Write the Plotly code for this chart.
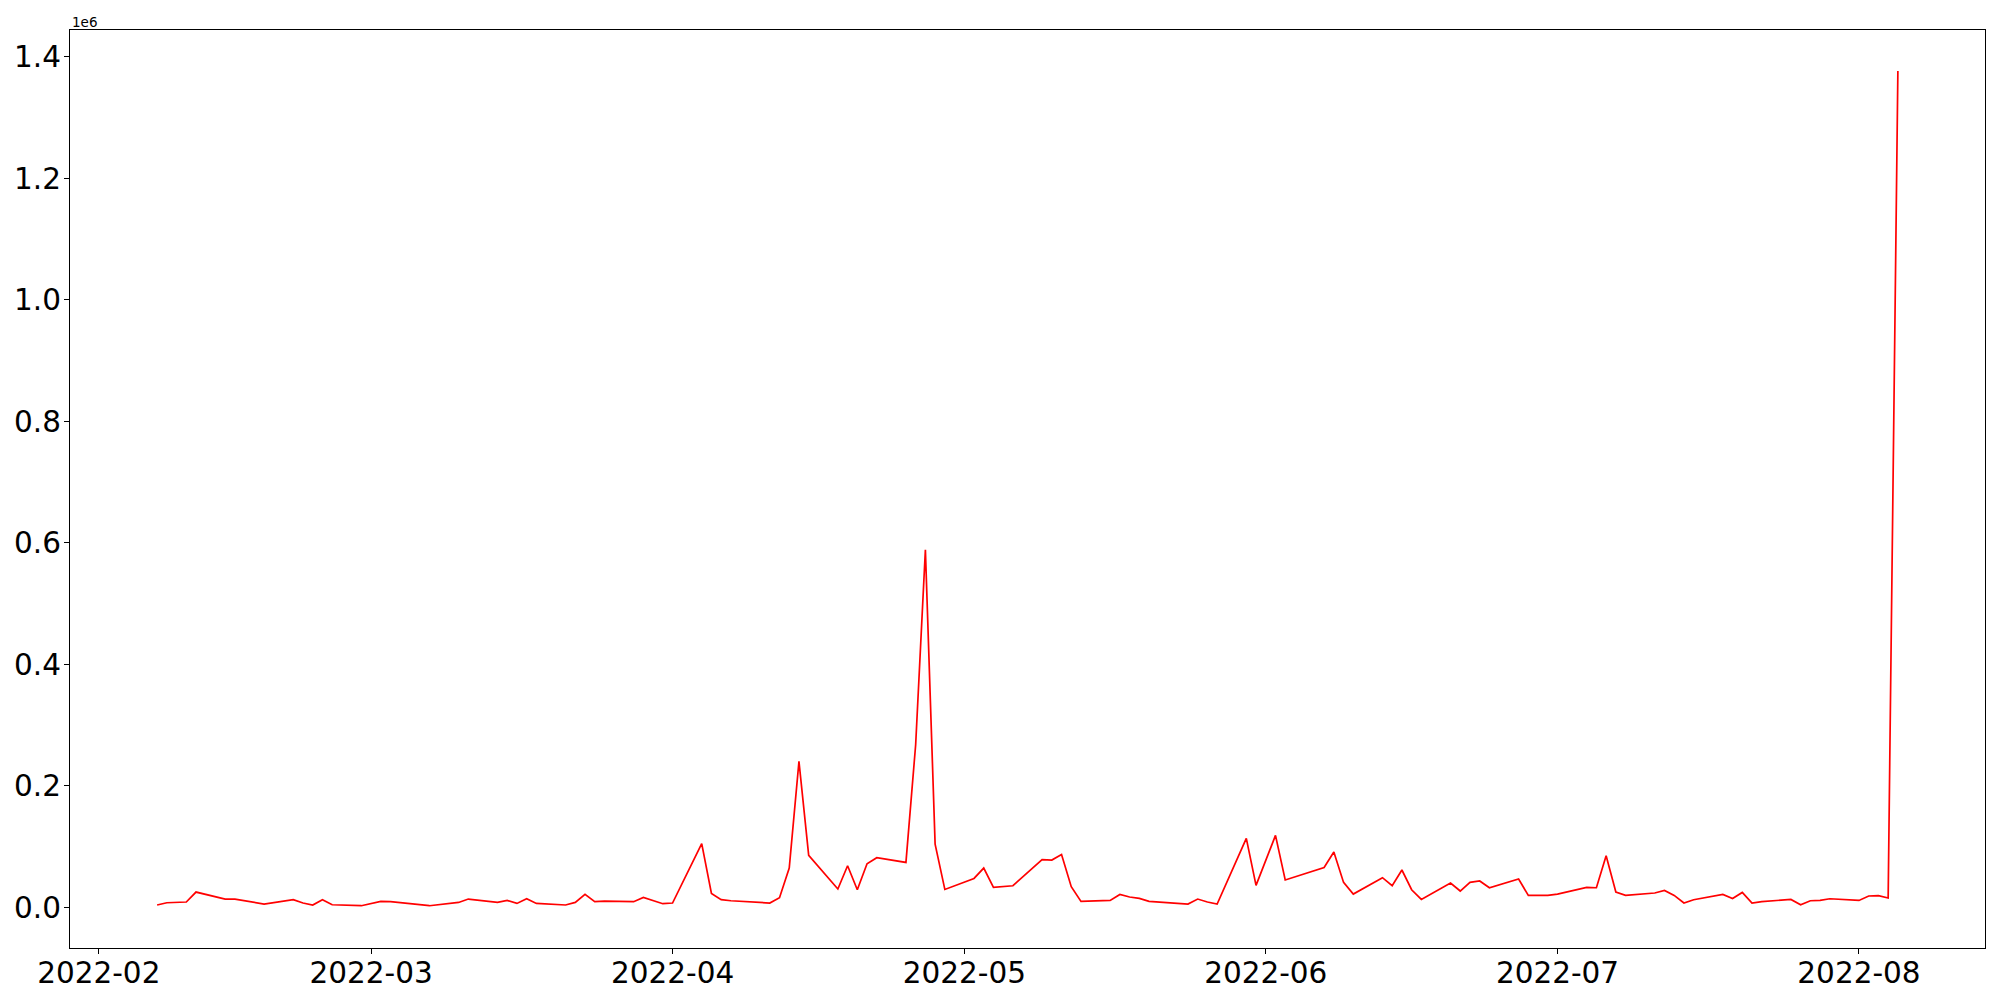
import plotly.graph_objects as go

# daily values (vertices only)
dates = [
    "2022-02-07", "2022-02-08", "2022-02-10", "2022-02-11", "2022-02-14", "2022-02-15",
    "2022-02-18", "2022-02-21", "2022-02-22", "2022-02-23", "2022-02-24", "2022-02-25",
    "2022-02-28", "2022-03-02", "2022-03-03", "2022-03-07", "2022-03-10", "2022-03-11",
    "2022-03-14", "2022-03-15", "2022-03-16", "2022-03-17", "2022-03-18", "2022-03-21",
    "2022-03-22", "2022-03-23", "2022-03-24", "2022-03-25", "2022-03-28", "2022-03-29",
    "2022-03-31", "2022-04-01", "2022-04-04", "2022-04-05", "2022-04-06", "2022-04-07",
    "2022-04-11", "2022-04-12", "2022-04-13", "2022-04-14", "2022-04-15", "2022-04-18",
    "2022-04-19", "2022-04-20", "2022-04-21", "2022-04-22", "2022-04-25", "2022-04-26",
    "2022-04-27", "2022-04-28", "2022-04-29", "2022-05-02", "2022-05-03", "2022-05-04",
    "2022-05-06", "2022-05-09", "2022-05-10", "2022-05-11", "2022-05-12", "2022-05-13",
    "2022-05-16", "2022-05-17", "2022-05-18", "2022-05-19", "2022-05-20", "2022-05-24",
    "2022-05-25", "2022-05-26", "2022-05-27", "2022-05-30", "2022-05-31", "2022-06-02",
    "2022-06-03", "2022-06-07", "2022-06-08", "2022-06-09", "2022-06-10", "2022-06-13",
    "2022-06-14", "2022-06-15", "2022-06-16", "2022-06-17", "2022-06-20", "2022-06-21",
    "2022-06-22", "2022-06-23", "2022-06-24", "2022-06-27", "2022-06-28", "2022-06-29",
    "2022-06-30", "2022-07-01", "2022-07-04", "2022-07-05", "2022-07-06", "2022-07-07",
    "2022-07-08", "2022-07-11", "2022-07-12", "2022-07-13", "2022-07-14", "2022-07-15",
    "2022-07-18", "2022-07-19", "2022-07-20", "2022-07-21", "2022-07-22", "2022-07-25",
    "2022-07-26", "2022-07-27", "2022-07-28", "2022-07-29", "2022-08-01", "2022-08-02",
    "2022-08-03", "2022-08-04", "2022-08-05",
]
values = [
    4000, 7700, 8900, 25300, 13800, 13800,
    5600, 12700, 7200, 4000, 12700, 4400,
    2800, 9900, 9400, 2800, 8200, 13800,
    8200, 11500, 6600, 14300, 6600, 4000,
    8200, 21400, 9400, 10500, 9400, 16500,
    6100, 7200, 104900, 23000, 12700, 11000,
    7200, 16000, 64800, 240300, 85600, 30300,
    68600, 29100, 71900, 81800, 74100, 267800,
    588800, 104300, 29600, 47700, 64800, 32900,
    35700, 78500, 78000, 87200, 34100, 9900,
    11500, 21400, 17100, 14800, 9900, 5600,
    13800, 8900, 5600, 113600, 36200, 118500,
    45100, 65800, 91200, 41200, 22000, 48900,
    35700, 61600, 29100, 13200, 40100, 27000,
    41200, 43500, 32400, 46700, 19800, 20400,
    19800, 22000, 32900, 32400, 85100, 25300,
    19800, 23700, 28000, 19800, 7200, 12700,
    21400, 14800, 24700, 7200, 9400, 13200,
    4400, 11000, 11500, 14300, 11500, 18800,
    19300, 15500, 1377000,
]

month_ticks = ["2022-02-01", "2022-03-01", "2022-04-01", "2022-05-01",
               "2022-06-01", "2022-07-01", "2022-08-01"]
y_ticks = [0, 200000, 400000, 600000, 800000, 1000000, 1200000, 1400000]
y_labels = ["0.0", "0.2", "0.4", "0.6", "0.8", "1.0", "1.2", "1.4"]

fig = go.Figure()
fig.add_trace(go.Scatter(
    x=dates,
    y=values,
    mode='lines',
    line=dict(color='red', width=1.7),
    showlegend=False
))

axis_style = dict(
    showline=True, linecolor='black', linewidth=1.3, mirror=True,
    showgrid=False, zeroline=False, automargin=False,
    ticks='outside', ticklen=5, tickwidth=1.2, tickcolor='black',
    tickfont=dict(size=29.5, color='black', family='DejaVu Sans'),
)

# page body has an 8px margin, so the figure is a bit smaller than the window
fig.update_layout(
    width=1984,
    height=984,
    paper_bgcolor='white',
    plot_bgcolor='white',
    margin=dict(l=61.5, r=6.7, t=22.3, b=43.7),
    font=dict(family='DejaVu Sans', color='black'),
    xaxis=dict(
        range=["2022-01-29 01:00", "2022-08-13 23:00"],
        tickvals=month_ticks,
        tickformat='%Y-%m',
        ticklabelstandoff=-7,
        **axis_style
    ),
    yaxis=dict(
        range=[-66800, 1444300],
        tickvals=y_ticks,
        ticktext=y_labels,
        ticklabelstandoff=-3,
        **axis_style
    ),
    annotations=[dict(
        text='1e6', xref='paper', yref='paper', x=0, y=1,
        xanchor='left', yanchor='bottom', showarrow=False,
        font=dict(size=13.5, color='black'), yshift=-2
    )]
)

fig.write_html("out.html")
